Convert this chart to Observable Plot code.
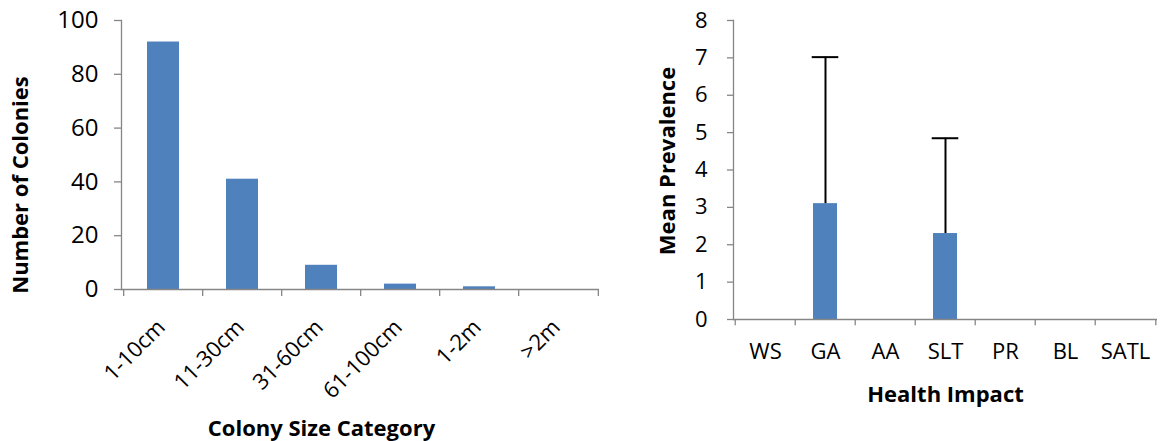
<!DOCTYPE html>
<html>
<head>
<meta charset="utf-8">
<script src="https://cdn.jsdelivr.net/npm/d3@7"></script>
<script src="https://cdn.jsdelivr.net/npm/@observablehq/plot@0.6"></script>
<style>
  html, body { margin: 0; padding: 0; background: #fff; }
  #wrap { position: relative; width: 1160px; height: 441px; overflow: hidden; background: #fff; }
  #left { position: absolute; left: 0; top: 0; }
  #right { position: absolute; left: 620px; top: 0; }
</style>
</head>
<body>
<div id="wrap"><div id="left"></div><div id="right"></div></div>
<script>
// ---- Data: left panel ----
const sizeCategories = ["1-10cm", "11-30cm", "31-60cm", "61-100cm", "1-2m", ">2m"];
const colonyCounts = [92, 41, 9, 2, 1, 0];
const leftYTicks = [0, 20, 40, 60, 80, 100];
const leftXTitle = "Colony Size Category";
const leftYTitle = "Number of Colonies";

// ---- Data: right panel ----
const healthImpacts = ["WS", "GA", "AA", "SLT", "PR", "BL", "SATL"];
const meanPrevalence = [0, 3.1, 0, 2.3, 0, 0, 0];
const prevalenceUpper = [null, 7.02, null, 4.85, null, null, null];
const rightYTicks = [0, 1, 2, 3, 4, 5, 6, 7, 8];
const rightXTitle = "Health Impact";
const rightYTitle = "Mean Prevalence";

const BAR = "#4F81BD";
const AXIS = "#868686";
const FONT = "Open Sans";

const leftData = sizeCategories.map((c, i) => ({cat: c, n: colonyCounts[i]}));
const rightData = healthImpacts.map((c, i) => ({cat: c, mean: meanPrevalence[i], upper: prevalenceUpper[i]}));
const errData = rightData.filter(d => d.upper != null);

// ---- Left chart ----
{
  const W = 620, H = 441, mL = 121, mR = 21, mT = 20, mB = 152;
  const step = (W - mL - mR) / sizeCategories.length;
  const last = sizeCategories[sizeCategories.length - 1];
  const chart = Plot.plot({
    width: W, height: H,
    marginLeft: mL, marginRight: mR, marginTop: mT, marginBottom: mB,
    style: {fontFamily: FONT, background: "transparent", overflow: "visible", color: "#000"},
    x: {domain: sizeCategories, paddingInner: 0.6, paddingOuter: 0.3},
    y: {domain: [0, 100]},
    marks: [
      Plot.barY(leftData, {x: "cat", y: "n", fill: BAR}),
      Plot.ruleY([0], {stroke: AXIS, strokeWidth: 1.3}),
      Plot.frame({anchor: "left", stroke: AXIS, strokeWidth: 1.3}),
      Plot.ruleX(sizeCategories, {x: d => d, y1: 0, y2: -2.6, dx: -step / 2, stroke: AXIS, strokeWidth: 1.3}),
      Plot.ruleX([last], {x: d => d, y1: 0, y2: -2.6, dx: step / 2, stroke: AXIS, strokeWidth: 1.3}),
      Plot.axisY({ticks: leftYTicks, tickSize: 7, tickPadding: 16, fontSize: 24, stroke: AXIS, strokeWidth: 1.3, fill: "#000", label: null}),
      Plot.axisX({tickSize: 0, tickPadding: 34, tickRotate: -45, fontSize: 22, fill: "#000", label: null, dx: -2}),
      Plot.text([leftXTitle], {frameAnchor: "bottom", dx: -39, dy: 139, fontSize: 22, fontWeight: "bold", fill: "#000", lineAnchor: "middle"}),
      Plot.text([leftYTitle], {frameAnchor: "left", rotate: -90, dx: -101, dy: 30, fontSize: 22, fontWeight: "bold", fill: "#000", textAnchor: "middle", lineAnchor: "middle"})
    ]
  });
  document.getElementById("left").appendChild(chart);
}

// ---- Right chart ----
{
  const W = 540, H = 441, mL = 113, mR = 3, mT = 20, mB = 122;
  const step = (W - mL - mR) / healthImpacts.length;
  const last = healthImpacts[healthImpacts.length - 1];
  const capInset = (step - 10) / 2;
  const chart = Plot.plot({
    width: W, height: H,
    marginLeft: mL, marginRight: mR, marginTop: mT, marginBottom: mB,
    style: {fontFamily: FONT, background: "transparent", overflow: "visible", color: "#000"},
    x: {domain: healthImpacts, paddingInner: 0.6, paddingOuter: 0.3},
    y: {domain: [0, 8]},
    marks: [
      Plot.barY(rightData, {x: "cat", y: "mean", fill: BAR}),
      Plot.ruleX(errData, {x: "cat", y1: "mean", y2: "upper", stroke: "#000", strokeWidth: 2}),
      Plot.tickY(errData, {x: "cat", y: "upper", stroke: "#000", strokeWidth: 2, insetLeft: capInset, insetRight: capInset}),
      Plot.ruleY([0], {stroke: AXIS, strokeWidth: 1.3}),
      Plot.frame({anchor: "left", stroke: AXIS, strokeWidth: 1.3}),
      Plot.ruleX(healthImpacts, {x: d => d, y1: 0, y2: -0.17, dx: -step / 2, stroke: AXIS, strokeWidth: 1.3}),
      Plot.ruleX([last], {x: d => d, y1: 0, y2: -0.17, dx: step / 2, stroke: AXIS, strokeWidth: 1.3}),
      Plot.axisY({ticks: rightYTicks, tickSize: 6, tickPadding: 20, fontSize: 22, stroke: AXIS, strokeWidth: 1.3, fill: "#000", label: null}),
      Plot.axisX({tickSize: 0, tickPadding: 24, fontSize: 22, fill: "#000", label: null}),
      Plot.text([rightXTitle], {frameAnchor: "bottom", dy: 75, fontSize: 22, fontWeight: "bold", fill: "#000", lineAnchor: "middle"}),
      Plot.text([rightYTitle], {frameAnchor: "left", rotate: -90, dx: -66, dy: -9, fontSize: 22, fontWeight: "bold", fill: "#000", textAnchor: "middle", lineAnchor: "middle"})
    ]
  });
  document.getElementById("right").appendChild(chart);
}
</script>
</body>
</html>
